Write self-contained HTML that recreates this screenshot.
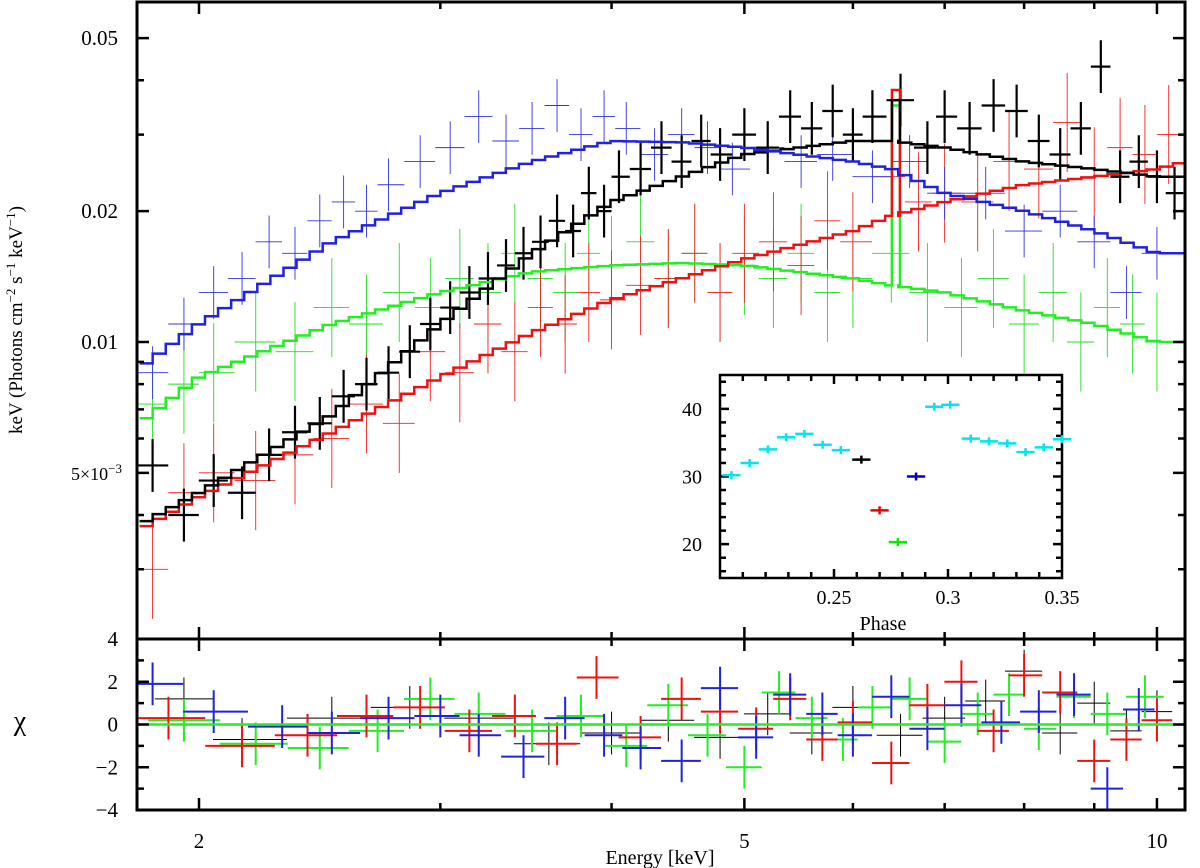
<!DOCTYPE html>
<html><head><meta charset="utf-8">
<style>
html,body{margin:0;padding:0;background:#fff;}
svg{display:block;font-family:"Liberation Serif",serif;}
</style></head>
<body>
<svg id="chart" width="1200" height="868" viewBox="0 0 1200 868" xmlns="http://www.w3.org/2000/svg">
<defs>
<clipPath id="clipMain"><rect x="137" y="2" width="1048" height="637"/></clipPath>
<clipPath id="clipRes"><rect x="137" y="639" width="1048" height="171"/></clipPath>
</defs>
<g id="main" clip-path="url(#clipMain)"></g>
<g id="res" clip-path="url(#clipRes)"></g>
<g id="axes"></g>
<g id="inset"></g>
<text x="22" y="320" font-size="19" text-anchor="middle" transform="rotate(-90 22 320)">keV (Photons cm<tspan font-size="13" dy="-7">−2</tspan><tspan dy="7"> s</tspan><tspan font-size="13" dy="-7">−1</tspan><tspan dy="7"> keV</tspan><tspan font-size="13" dy="-7">−1</tspan><tspan dy="7">)</tspan></text>
<text x="20" y="730" font-size="28" text-anchor="middle">χ</text>
<text x="660" y="864" font-size="20" text-anchor="middle">Energy [keV]</text>
</svg>
<script>
// ---- model node arrays (energy keV, flux) ----
const modelE = [1.81,2,2.5,3,3.5,4,4.5,5,6,6.4,7,8,9,10,10.5];
const modelBlue  = [0.0087,0.011,0.017,0.022,0.026,0.029,0.0288,0.028,0.026,0.025,0.022,0.02,0.018,0.016,0.016];
const modelBlack = [0.0038,0.0045,0.0068,0.011,0.016,0.021,0.024,0.027,0.029,0.029,0.028,0.026,0.025,0.024,0.024];
const modelRed   = [0.0037,0.0044,0.0062,0.0083,0.0105,0.0125,0.014,0.0155,0.018,0.0195,0.021,0.023,0.024,0.025,0.026];
const modelGreen = [0.0065,0.0083,0.011,0.013,0.0145,0.015,0.0152,0.015,0.014,0.0135,0.013,0.0118,0.011,0.010,0.010];
const lineE = 6.45;
const lineRed = 0.038;
const lineGreen = 0.035;
const lineBlack = 0.036;
// ---- data points ----
const blueE = [1.85,1.95,2.05,2.15,2.25,2.35,2.45,2.55,2.65,2.75,2.9,3.05,3.2,3.35,3.5,3.65,3.8,3.95,4.1,4.3,4.5,4.7,4.9,5.2,5.5,5.8,6.2,6.6,7.0,7.5,8.0,8.5,9.0,9.5,10.0];
const blueV = [.0085,.011,.013,.014,.017,.016,.019,.021,.020,.023,.026,.028,.033,.029,.031,.035,.030,.033,.031,.027,.030,.028,.025,.028,.026,.027,.024,.026,.022,.022,.018,.020,.017,.013,.016];
const blackE = [1.85,1.95,2.05,2.15,2.25,2.35,2.45,2.55,2.65,2.75,2.85,2.95,3.05,3.15,3.25,3.35,3.45,3.55,3.65,3.75,3.85,3.95,4.05,4.2,4.35,4.5,4.65,4.8,5.0,5.2,5.4,5.6,5.8,6.0,6.2,6.5,6.8,7.0,7.3,7.6,7.9,8.2,8.5,8.8,9.1,9.4,9.7,10.0,10.3];
const blackV = [.0052,.0040,.0048,.0045,.0055,.0062,.0065,.0075,.0080,.0085,.0095,.011,.012,.013,.014,.015,.016,.017,.019,.018,.022,.020,.024,.025,.028,.026,.029,.027,.030,.028,.033,.031,.034,.030,.033,.036,.028,.033,.031,.035,.034,.029,.027,.031,.043,.024,.026,.024,.022];
const redE = [1.85,1.95,2.05,2.2,2.35,2.5,2.65,2.8,2.95,3.1,3.25,3.4,3.55,3.7,3.85,4.0,4.2,4.4,4.6,4.8,5.0,5.25,5.5,5.75,6.0,6.4,6.7,7.0,7.4,7.8,8.2,8.6,9.0,9.4,9.8,10.2];
const redV = [.0030,.0045,.0050,.0048,.0055,.0060,.0072,.0065,.0095,.0085,.011,.0095,.012,.011,.013,.0125,.0135,.014,.016,.013,.016,.017,.015,.019,.017,.024,.021,.022,.021,.026,.025,.032,.024,.028,.027,.030];
const greenE = [1.85,1.95,2.05,2.2,2.35,2.5,2.65,2.8,2.95,3.1,3.25,3.4,3.55,3.7,3.85,4.0,4.2,4.4,4.6,4.8,5.0,5.25,5.5,5.75,6.0,6.4,6.8,7.2,7.6,8.0,8.4,8.8,9.2,9.6,10.0];
const greenV = [.0072,.0080,.0085,.010,.0095,.012,.011,.013,.012,.014,.013,.016,.014,.013,.016,.015,.017,.014,.016,.013,.015,.014,.016,.013,.014,.016,.013,.012,.014,.011,.013,.010,.012,.011,.010];
// ---- residuals ----
const resBlueE = [1.85,2.05,2.3,2.5,2.75,3.0,3.2,3.45,3.7,3.95,4.2,4.5,4.8,5.1,5.4,5.7,6.0,6.4,6.8,7.2,7.7,8.2,8.7,9.2,9.7];
const resBlueC = [1.9,0.6,-0.1,-0.4,0.3,0.4,-0.5,-1.5,0.3,-0.5,-1.1,-1.7,1.7,-0.6,1.4,0.5,-0.5,1.3,-0.2,0.9,0.1,0.6,1.4,-3.0,0.7];
const resRedE = [1.9,2.15,2.4,2.65,2.9,3.15,3.4,3.65,3.9,4.2,4.5,4.8,5.1,5.4,5.7,6.0,6.4,6.8,7.2,7.6,8.0,8.5,9.0,9.5,10.0];
const resRedC = [0.3,-1.0,-0.5,0.4,0.8,-0.3,0.4,-0.9,2.2,-0.6,1.2,0.6,-0.2,1.2,-0.7,0.1,-1.8,0.9,2.0,-0.3,2.3,1.5,-1.7,-0.7,0.2];
const resGreenE = [1.95,2.2,2.45,2.7,2.95,3.2,3.5,3.8,4.1,4.4,4.7,5.0,5.3,5.6,5.9,6.2,6.6,7.0,7.4,7.8,8.2,8.7,9.2,9.8];
const resGreenC = [0.2,-0.9,-1.1,-0.3,1.2,0.5,-0.3,0.4,-1.0,0.9,-0.5,-2.0,1.5,0.3,-0.7,0.8,1.2,-0.8,0.5,1.4,-0.2,1.3,0.5,1.3];
const resBlackE = [1.95,2.15,2.5,2.85,3.2,3.6,4.0,4.4,4.8,5.2,5.6,6.0,6.5,7.0,7.5,8.0,8.5,9.0,9.5,10.0];
const resBlackC = [1.2,-0.7,0.3,0.8,0.3,-0.9,-0.4,0.2,-0.6,0.5,-0.4,0.8,-0.5,0.3,1.1,2.5,-0.4,1.0,-0.3,0.6];
// ---- inset light curve ----
const phaseX = [0.205,0.213,0.221,0.229,0.237,0.245,0.253,0.262,0.270,0.278,0.286,0.294,0.301,0.310,0.318,0.326,0.334,0.342,0.350];
const phaseY = [30.2,32,34,35.8,36.3,34.7,33.9,32.5,25,20.3,30,40.3,40.6,35.6,35.2,34.9,33.6,34.3,35.5];
const phaseC = ['#00e5ee','#00e5ee','#00e5ee','#00e5ee','#00e5ee','#00e5ee','#00e5ee','#000','#e00','#0e0','#00c','#00e5ee','#00e5ee','#00e5ee','#00e5ee','#00e5ee','#00e5ee','#00e5ee','#00e5ee'];

const NS='http://www.w3.org/2000/svg';
function mk(parent,tag,attrs){const e=document.createElementNS(NS,tag);for(const k in attrs)e.setAttribute(k,attrs[k]);parent.appendChild(e);return e;}
const xE=E=>199+Math.log10(E/2)*1370.5;
const yV=v=>342-Math.log10(v/0.01)*434.7;
const yC=c=>724.5-c*21.375;
const main=document.getElementById('main'),res=document.getElementById('res'),axes=document.getElementById('axes'),ins=document.getElementById('inset');

function interp(E,arr){const le=Math.log10(E);for(let i=0;i<modelE.length-1;i++){const a=Math.log10(modelE[i]),b=Math.log10(modelE[i+1]);if(le<=b||i==modelE.length-2){const t=(le-a)/(b-a);return Math.pow(10,Math.log10(arr[i])+t*(Math.log10(arr[i+1])-Math.log10(arr[i])));}}}

function crosses(g,Es,Vs,color,sw,yf,errf,name){
  for(let i=0;i<Es.length;i++){
    const x=xE(Es[i]);
    const prev=i>0?xE(Es[i-1]):x-(xE(Es[1])-xE(Es[0]));
    const next=i<Es.length-1?xE(Es[i+1]):x+(x-prev);
    const y=yf(Vs[i]);const [y1,y2]=errf(Vs[i]);
    const p=mk(g,'path',{d:`M${(x+prev)/2},${y}H${(x+next)/2}M${x},${y1}V${y2}`,stroke:color,'stroke-width':sw,fill:'none'});
    
    
  }
}
crosses(main,greenE,greenV,'#2d2',0.9,yV,v=>[yV(v*1.3),yV(v/1.3)],'green-data-point');
crosses(main,redE,redV,'#e22',0.9,yV,v=>[yV(v*1.3),yV(v/1.3)],'red-data-point');
crosses(main,blueE,blueV,'#33d',0.9,yV,v=>[yV(v*1.15),yV(v/1.15)],'blue-data-point');
crosses(main,blackE,blackV,'#000',2.2,yV,v=>[yV(v*1.15),yV(v/1.15)],'black-data-point');
function stepModel(arr,color,name,lineVal){
  let d='';const n=80;const l0=Math.log10(1.81),l1=Math.log10(10.5);
  for(let i=0;i<n;i++){
    const ea=Math.pow(10,l0+(l1-l0)*i/n),eb=Math.pow(10,l0+(l1-l0)*(i+1)/n),em=Math.sqrt(ea*eb);
    let v=interp(em,arr);
    if(lineVal&&ea<=lineE&&eb>lineE){const xa=xE(ea),xb=xE(eb),xm=xE(lineE);
      d+=(d?'L':'M')+xa+','+yV(v)+'H'+(xm-4)+'V'+yV(lineVal)+'H'+(xm+4)+'V'+yV(v)+'H'+xb;continue;}
    d+=(d?'L':'M')+xE(ea)+','+yV(v)+'H'+xE(eb);
  }
  const p=mk(main,'path',{d,stroke:color,'stroke-width':2.5,fill:'none'});
  
  
}
stepModel(modelGreen,'#2e2','green-model-line',lineGreen);
stepModel(modelRed,'#e11','red-model-line',lineRed);
stepModel(modelBlack,'#000','black-model-line',lineBlack);
stepModel(modelBlue,'#22d','blue-model-line',null);
crosses(res,resBlackE,resBlackC,'#000',1,yC,c=>[yC(c+1),yC(c-1)],'black-residual');
crosses(res,resGreenE,resGreenC,'#2e2',2,yC,c=>[yC(c+1),yC(c-1)],'green-residual');
crosses(res,resRedE,resRedC,'#e11',2,yC,c=>[yC(c+1),yC(c-1)],'red-residual');
crosses(res,resBlueE,resBlueC,'#22d',2,yC,c=>[yC(c+1),yC(c-1)],'blue-residual');
const zl=mk(res,'line',{x1:137,x2:1185,y1:yC(0),y2:yC(0),stroke:'#2e2','stroke-width':2.5});



const fr=mk(axes,'path',{d:'M137,2H1185V810H137ZM137,639H1185',stroke:'#000','stroke-width':3,fill:'none'});


function txt(g,x,y,s,anchor,size,name){const t=mk(g,'text',{x,y,'font-size':size,'text-anchor':anchor});t.textContent=s;return t;}
let td='';
for(let E=2;E<=10;E++){const x=xE(E);const L=(E==2||E==5||E==10)?12:7;
  td+=`M${x},2v${L}M${x},639v-${L}M${x},639v${L}M${x},810v-${L}`;}
[0.003,0.004,0.006,0.007,0.008,0.009,0.03,0.04].forEach(v=>{const y=yV(v);td+=`M137,${y}h7M1185,${y}h-7`;});
[0.005,0.01,0.02,0.05].forEach(v=>{const y=yV(v);td+=`M137,${y}h12M1185,${y}h-12`;});
for(let c=-3;c<=3;c++){const y=yC(c);const L=c%2==0?12:7;td+=`M137,${y}h${L}M1185,${y}h-${L}`;}
const tk=mk(axes,'path',{d:td,stroke:'#000','stroke-width':2.5,fill:'none'});


txt(axes,xE(2),848,'2','middle',21,'x-tick-label');
txt(axes,xE(5),848,'5','middle',21,'x-tick-label');
txt(axes,xE(10),848,'10','middle',21,'x-tick-label');
txt(axes,118,yV(0.05)+7,'0.05','end',21,'y-tick-label');
txt(axes,118,yV(0.02)+7,'0.02','end',21,'y-tick-label');
txt(axes,118,yV(0.01)+7,'0.01','end',21,'y-tick-label');
const t5=txt(axes,122,yV(0.005)+7,'','end',18,'y-tick-label');t5.innerHTML='5×10<tspan font-size="13" dy="-7">−3</tspan>';
[4,2,0,-2,-4].forEach(c=>txt(axes,118,yC(c)+7,c<0?'−'+(-c):String(c),'end',21,'chi-tick-label'));

const px=p=>720+(p-0.2)/0.15*342, py=v=>578-(v-15)/30*203;
const ib=mk(ins,'rect',{x:720,y:375,width:342,height:203,fill:'#fff',stroke:'#000','stroke-width':2.5});


let idd='';
for(let i=1;i<15;i++){const x=px(0.2+i*0.01);const L=i%5==0?9:6;idd+=`M${x},375v${L}M${x},578v-${L}`;}
for(let v=16;v<45;v+=2){const y=py(v);const L=v%10==0?9:6;idd+=`M720,${y}h${L}M1062,${y}h-${L}`;}
const it=mk(ins,'path',{d:idd,stroke:'#000','stroke-width':2.5,fill:'none'});


for(let i=0;i<phaseX.length;i++){const x=px(phaseX[i]),y=py(phaseY[i]);
  const p=mk(ins,'path',{d:`M${px(phaseX[i]-0.004)},${y}H${px(phaseX[i]+0.004)}M${x},${y-4}V${y+4}`,stroke:phaseC[i],'stroke-width':2.5,fill:'none'});
  
  
}
[0.25,0.3,0.35].forEach(p=>txt(ins,px(p),604,String(p),'middle',20,'inset-x-tick-label'));
[20,30,40].forEach(v=>txt(ins,702,py(v)+7,String(v),'end',20,'inset-y-tick-label'));
txt(ins,883,630,'Phase','middle',20,'inset-x-axis-title');
</script>
</body></html>
